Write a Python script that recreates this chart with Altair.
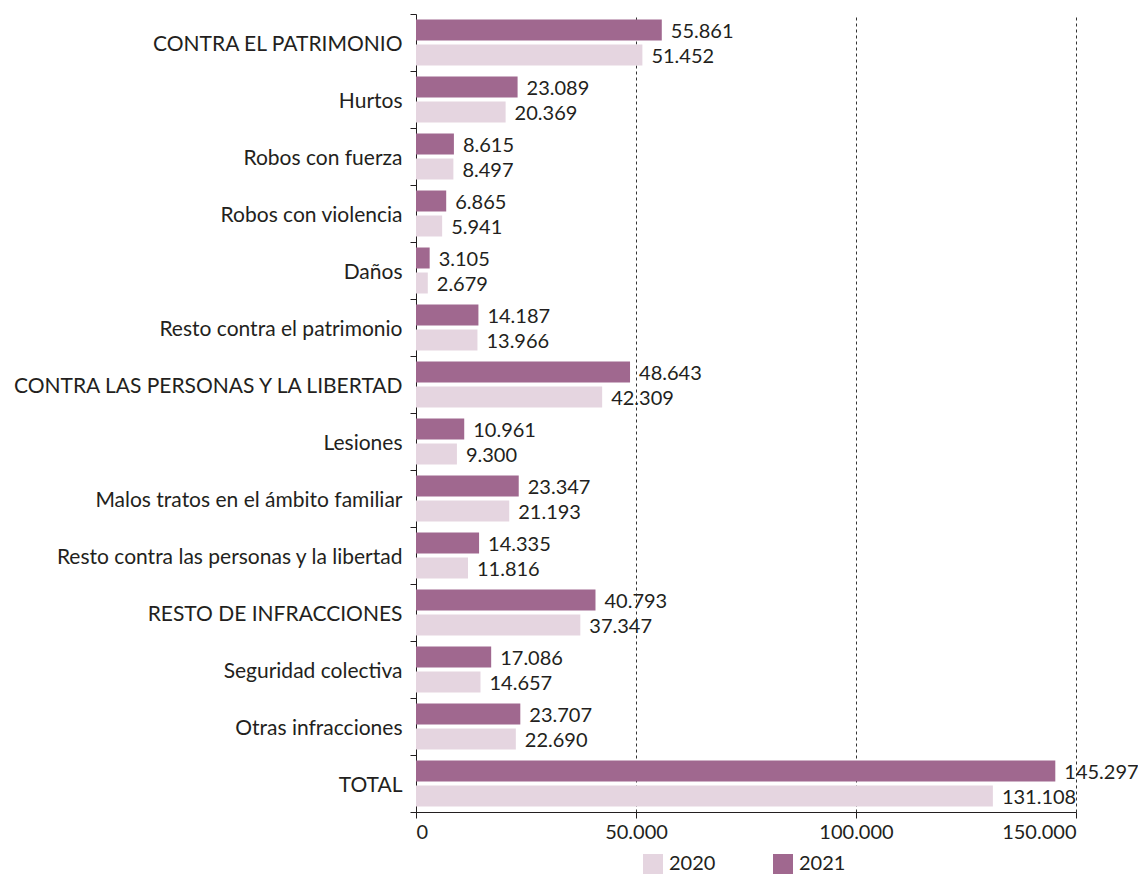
import altair as alt
import pandas as pd

categories = [
    "CONTRA EL PATRIMONIO",
    "Hurtos",
    "Robos con fuerza",
    "Robos con violencia",
    "Daños",
    "Resto contra el patrimonio",
    "CONTRA LAS PERSONAS Y LA LIBERTAD",
    "Lesiones",
    "Malos tratos en el ámbito familiar",
    "Resto contra las personas y la libertad",
    "RESTO DE INFRACCIONES",
    "Seguridad colectiva",
    "Otras infracciones",
    "TOTAL",
]
v2020 = [51452, 20369, 8497, 5941, 2679, 13966, 42309, 9300, 21193, 11816, 37347, 14657, 22690, 131108]
v2021 = [55861, 23089, 8615, 6865, 3105, 14187, 48643, 10961, 23347, 14335, 40793, 17086, 23707, 145297]
years = ["2020", "2021"]
colors = ["#E5D5E0", "#A0688F"]
x_ticks = [0, 50000, 100000, 150000]

rows = []
for c, a, b in zip(categories, v2020, v2021):
    for yr, v in (("2020", a), ("2021", b)):
        rows.append({"cat": c, "year": yr, "value": v,
                     "label": f"{v:,}".replace(",", ".")})
df = pd.DataFrame(rows)

FONT = "Lato"
TXT = "#231F20"

base = alt.Chart(df).encode(
    y=alt.Y("cat:N", sort=categories,
            scale=alt.Scale(paddingInner=0, paddingOuter=0),
            axis=alt.Axis(title=None, tickBand="extent", labelFont=FONT,
                          labelFontSize=21, labelColor=TXT, labelPadding=8,
                          labelOffset=2,
                          tickColor=TXT, domainColor=TXT, tickSize=6,
                          grid=False, labelLimit=500)),
    yOffset=alt.YOffset("year:N", sort=["2021", "2020"],
                        scale=alt.Scale(paddingInner=0.16, paddingOuter=0.22)),
)

bars = base.mark_bar().encode(
    x=alt.X("value:Q", scale=alt.Scale(domain=[0, 150000], nice=False),
            axis=alt.Axis(title=None, values=x_ticks,
                          labelExpr="replace(format(datum.value, ','), ',', '.')",
                          labelFont=FONT, labelFontSize=20, labelColor=TXT,
                          tickColor=TXT, domainColor=TXT, tickSize=6,
                          labelPadding=4,
                          grid=True, gridDash=[3, 3], gridColor="#333333",
                          gridWidth=1)),
    color=alt.Color("year:N", scale=alt.Scale(domain=years, range=colors),
                    legend=alt.Legend(title=None, orient="none", legendX=227,
                                      legendY=840, direction="horizontal",
                                      symbolType="square", symbolSize=400,
                                      symbolStrokeWidth=0, labelFont=FONT,
                                      labelFontSize=20, labelColor=TXT,
                                      labelOffset=6, columnPadding=57)),
)

text = base.mark_text(align="left", baseline="middle", dx=9, dy=1.5,
                      font=FONT, fontSize=20, color=TXT).encode(
    x=alt.X("value:Q"),
    text=alt.Text("label:N"),
)

chart = (bars + text).properties(
    width=660, height=798,
    autosize=alt.AutoSizeParams(type="none"),
    padding={"left": 408, "top": 6, "right": 62, "bottom": 63},
).configure_view(stroke=None)

chart.save("out.html", embed_options={"renderer": "svg", "actions": False})
